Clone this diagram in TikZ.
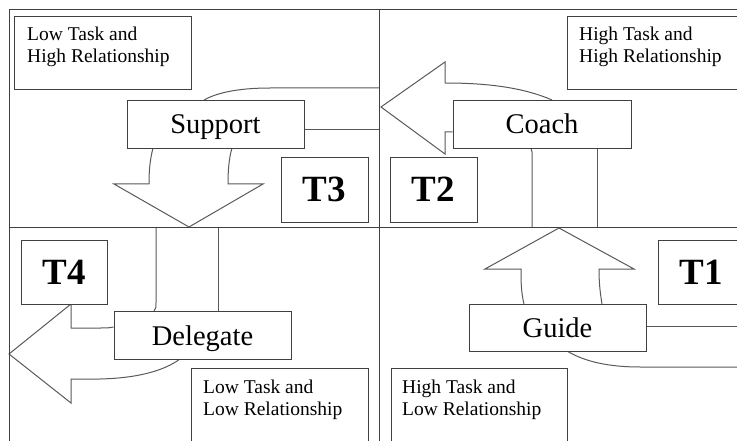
\documentclass[tikz,border=0pt]{standalone}
\usepackage{fontspec}
\setmainfont{Liberation Serif}
\usetikzlibrary{backgrounds}
\begin{document}
\begin{tikzpicture}[x=1pt,y=-1pt,
  frame/.style={draw=black!75, line width=0.9pt},
  box/.style={draw=black!75, line width=0.9pt, fill=white, inner sep=0pt},
  arr/.style={draw=black!65, line width=1pt},
  small/.style={font=\fontsize{19.5}{22}\selectfont, align=left, inner sep=0pt, anchor=north west},
  lbl/.style={box, minimum width=177pt, minimum height=48pt, text height=20pt, text depth=0pt, font=\fontsize{28.5}{34}\selectfont},
  tbox/.style={box, minimum width=87pt, minimum height=65pt, font=\fontsize{37}{40}\selectfont\bfseries},
  qbox/.style={box, anchor=north west, minimum width=177pt, minimum height=73pt}]
\useasboundingbox (0,0) rectangle (737,441);
\clip (0,0) rectangle (737,441);

% quadrant frame
\draw[frame] (740,9) -- (9,9) -- (9,445);
\draw[frame] (379,9) -- (379,445);
\draw[frame] (9,227) -- (740,227);

% quadrant description boxes
\node[qbox] (lhbox) at (14,16) {};
\node[small] (lhtext) at (27,27) {Low Task and\\High Relationship};
\node[qbox] (hhbox) at (567,16) {};
\node[small] (hhtext) at (579,27) {High Task and\\High Relationship};
\node[qbox, minimum height=80pt] (llbox) at (191,368) {};
\node[small] (lltext) at (203,380) {Low Task and\\Low Relationship};
\node[qbox, minimum width=176pt, minimum height=80pt] (hlbox) at (391,368) {};
\node[small] (hltext) at (402,380) {High Task and\\Low Relationship};

% style boxes
\node[lbl] (support) at (215.5,124) {Support};
\node[lbl, minimum width=178pt] (coach) at (542,124) {Coach};
\node[lbl] (delegate) at (202.5,335) {Delegate};
\node[lbl, minimum height=47pt] (guide) at (557.5,327.5) {Guide};

% T boxes
\node[tbox] (t3) at (324.5,189.5) {T3};
\node[tbox] (t2) at (433.5,189.5) {T2};
\node[tbox, minimum width=86pt, minimum height=64pt] (t4) at (64,272) {T4};
\node[tbox, minimum width=86pt, minimum height=64pt] (t1) at (701,272) {T1};

\begin{scope}[on background layer]
% Coach -> left arrow
\draw[arr] (552,100) .. controls (520,86) and (480,83) .. (445,83) -- (445,62) -- (381,107) -- (445,154) -- (445,132) -- (coach.west |- 0,132);
% Support shaft to the right
\draw[arr] (204,100) .. controls (220,91) and (245,88) .. (270,88) -- (379,88);
\draw[arr] (support.east |- 0,130) -- (379,130);
% Support down arrow
\draw[arr] (153,148) .. controls (150,160) and (149,170) .. (149,184) -- (114,184) -- (189,227) -- (263,184) -- (228,184) .. controls (228,170) and (229,158) .. (232,148);
% shaft down to Delegate
\draw[arr] (156,227) -- (156,303) .. controls (156,308) .. (154,311);
\draw[arr] (218,227) -- (218,311);
% Delegate left arrow
\draw[arr] (delegate.west |- 0,327) .. controls (108,328) .. (100,328) -- (71,328) -- (71,304) -- (9,354) -- (71,403) -- (71,379) -- (100,379) .. controls (140,378) and (165,370) .. (180,359);
% Guide up arrow
\draw[arr] (524,304) .. controls (521,292) and (521,280) .. (521,269) -- (485,269) -- (559,228) -- (634,269) -- (599,269) .. controls (599,282) and (600,292) .. (602,304);
% shaft up to Coach
\draw[arr] (532,227) -- (532,152) .. controls (532,150) .. (531,148);
\draw[arr] (597,227) -- (597,148);
% Guide shaft to the right
\draw[arr] (guide.east |- 0,326) -- (740,326);
\draw[arr] (567,351) .. controls (585,362) and (610,367) .. (640,367) -- (740,367);
\end{scope}
\end{tikzpicture}
\end{document}
